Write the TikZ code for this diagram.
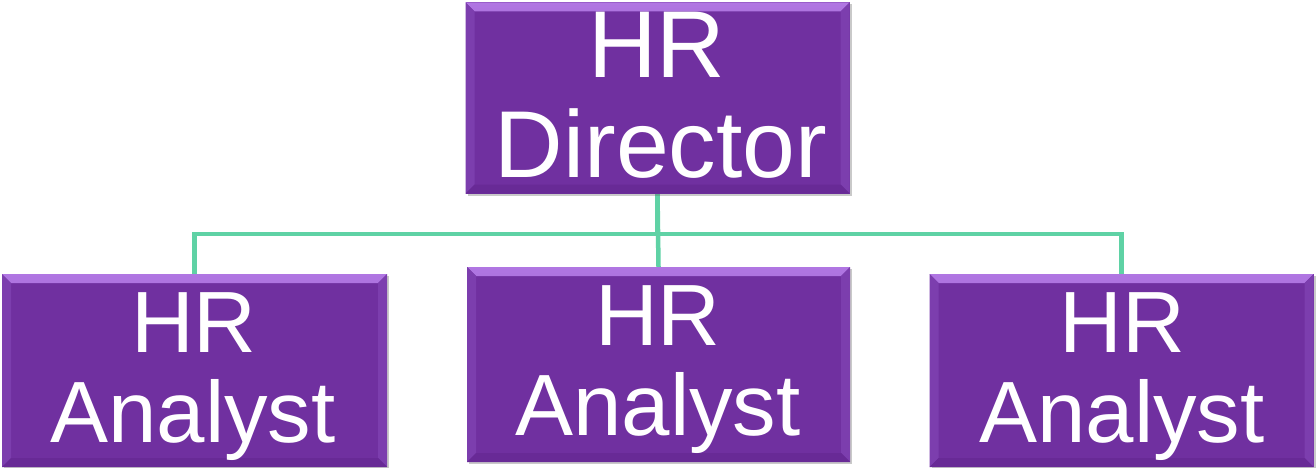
\documentclass[tikz,border=0pt]{standalone}
\usepackage{fontspec}
\setmainfont{Liberation Sans}
\usetikzlibrary{shadows,backgrounds}
\definecolor{boxpurple}{RGB}{112,48,160}
\definecolor{bevlight}{RGB}{176,118,226}
\definecolor{bevside}{RGB}{124,62,174}
\definecolor{bevdark}{RGB}{104,42,150}
\definecolor{connc}{RGB}{95,210,165}
\tikzset{
  box/.style={rectangle, fill=boxpurple, inner sep=0pt, draw=none,
    drop shadow={shadow xshift=2pt, shadow yshift=-2pt, opacity=0.35, fill=black!60},
    path picture={
      \shade[top color=bevlight, bottom color=bevside] (path picture bounding box.north west) -- (path picture bounding box.north east)
        -- ([shift={(-9pt,-9pt)}]path picture bounding box.north east) -- ([shift={(9pt,-9pt)}]path picture bounding box.north west) -- cycle;
      \fill[bevside] (path picture bounding box.north west) -- ([shift={(9pt,-9pt)}]path picture bounding box.north west)
        -- ([shift={(9pt,9pt)}]path picture bounding box.south west) -- (path picture bounding box.south west) -- cycle;
      \fill[bevside] (path picture bounding box.north east) -- ([shift={(-9pt,-9pt)}]path picture bounding box.north east)
        -- ([shift={(-9pt,9pt)}]path picture bounding box.south east) -- (path picture bounding box.south east) -- cycle;
      \fill[bevdark] (path picture bounding box.south west) -- ([shift={(9pt,9pt)}]path picture bounding box.south west)
        -- ([shift={(-9pt,9pt)}]path picture bounding box.south east) -- (path picture bounding box.south east) -- cycle;
    }},
  dirtxt/.style={text=white, inner sep=0pt, anchor=base, font=\fontsize{95}{98}\selectfont},
  antxt/.style={text=white, inner sep=0pt, anchor=base, font=\fontsize{87}{90}\selectfont},
  conn/.style={draw=connc, line width=4.5pt}
}
\begin{document}
\begin{tikzpicture}[x=1pt,y=-1pt]
\useasboundingbox (0,0) rectangle (1316,468);
\node[box, minimum width=384pt, minimum height=191pt] (dir) at (657.5,98) {};
\node[box, minimum width=385pt, minimum height=193pt] (an1) at (194.5,370.5) {};
\node[box, minimum width=383pt, minimum height=195pt] (an2) at (658.5,364.5) {};
\node[box, minimum width=384pt, minimum height=193pt] (an3) at (1121.5,370.5) {};
\node[dirtxt] (d1) at (657,78) {HR};
\node[dirtxt] (d2) at (661,177) {Director};
\node[antxt] (a1a) at (194,352) {HR};
\node[antxt] (a1b) at (193,442) {Analyst};
\node[antxt] (a2a) at (658,345) {HR};
\node[antxt] (a2b) at (658,435) {Analyst};
\node[antxt] (a3a) at (1122,352) {HR};
\node[antxt] (a3b) at (1122,442) {Analyst};
\coordinate (bus) at (0,234);
\begin{scope}[on background layer]
  \fill[white] (0,0) rectangle (1316,468);
  \draw[conn] (dir.south) -- (dir.south |- bus) -| (an1.north);
  \draw[conn] (dir.south) -- (dir.south |- bus) -| (an3.north);
  \draw[conn] (dir.south) -- (an2.north);
\end{scope}
\end{tikzpicture}
\end{document}
